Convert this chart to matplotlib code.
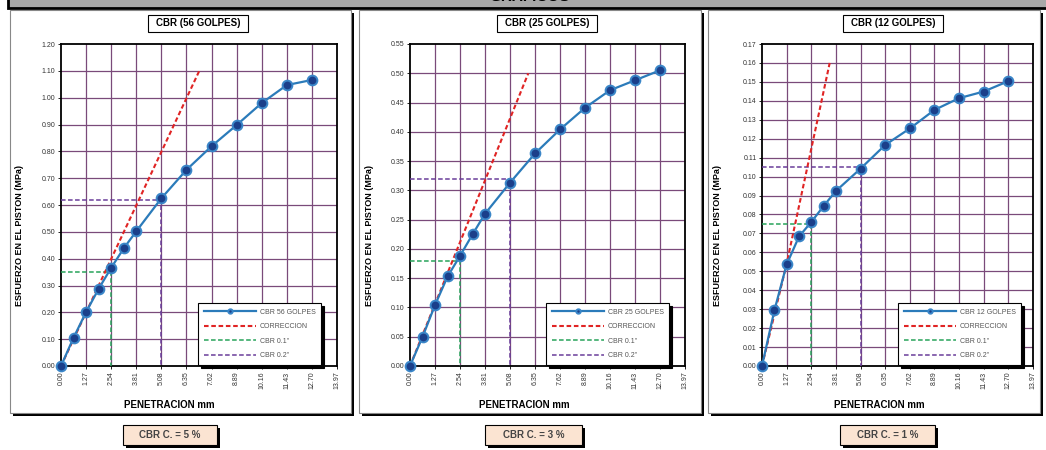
import numpy as np
import matplotlib
matplotlib.use("Agg")
import matplotlib.pyplot as plt
from matplotlib.patches import Rectangle

plt.rcParams['font.family'] = ['Liberation Sans', 'DejaVu Sans']

# Penetracion (mm) comun a los tres ensayos
penetracion = [0.00, 0.64, 1.27, 1.91, 2.54, 3.18, 3.81, 5.08, 6.35, 7.62, 8.89, 10.16, 11.43, 12.70]
x_ticks = [0.00, 1.27, 2.54, 3.81, 5.08, 6.35, 7.62, 8.89, 10.16, 11.43, 12.70, 13.97]

# Esfuerzos (MPa) por numero de golpes
esf_56 = [0.000, 0.106, 0.201, 0.288, 0.366, 0.439, 0.502, 0.625, 0.731, 0.819, 0.898, 0.980, 1.047, 1.066]
esf_25 = [0.000, 0.050, 0.104, 0.153, 0.188, 0.225, 0.260, 0.313, 0.363, 0.404, 0.441, 0.471, 0.488, 0.505]
esf_12 = [0.000, 0.0294, 0.0536, 0.0684, 0.0760, 0.0845, 0.0924, 0.1042, 0.1167, 0.1254, 0.1352, 0.1414, 0.1449, 0.1504]

# Lineas de correccion
corr_56_x = [0.00, 7.00]
corr_56_y = [0.00, 1.10]
corr_25_x = [0.00, 6.01]
corr_25_y = [0.00, 0.50]
corr_12_x = [0.00, 1.27, 3.49]
corr_12_y = [0.000, 0.054, 0.160]

# Esfuerzo leido a 0.1" y 0.2"
cbr01 = [0.35, 0.18, 0.075]
cbr02 = [0.62, 0.32, 0.105]

golpes = ['56', '25', '12']
cbr_result = ['5', '3', '1']

y_ticks_56 = np.round(np.arange(0, 1.21, 0.10), 2)
y_ticks_25 = np.round(np.arange(0, 0.551, 0.05), 2)
y_ticks_12 = np.round(np.arange(0, 0.171, 0.01), 2)

W, H = 1046, 450
fig = plt.figure(figsize=(W / 100, H / 100), dpi=100)


def fx(px):
    return px / W


def fy(py):
    return 1 - py / H


def box(x0, y0, x1, y1, face='white', edge='#777777', lw=0.8, sh=3, shadow_color='black'):
    # rectangulo con sombra negra abajo a la derecha (coordenadas en pixeles)
    fig.patches.append(Rectangle((fx(x0 + sh), fy(y1 + sh)), fx(x1 - x0), (y1 - y0) / H,
                                 transform=fig.transFigure, facecolor=shadow_color,
                                 edgecolor='none', zorder=0))
    fig.patches.append(Rectangle((fx(x0), fy(y1)), fx(x1 - x0), (y1 - y0) / H,
                                 transform=fig.transFigure, facecolor=face,
                                 edgecolor=edge, lw=lw, zorder=1))


# banda de encabezado
fig.patches.append(Rectangle((fx(8), fy(8)), fx(1060), 20 / H, transform=fig.transFigure,
                             facecolor='#a8a8a8', edgecolor='black', lw=2, zorder=0))
fig.text(fx(530), fy(4), 'GRAFICOS', ha='center', va='bottom', fontsize=11,
         fontweight='bold', color='black')

panels = [(10, 351), (359, 701), (708, 1040)]
title_cx = [198, 547, 893]
axes_px = [(61, 337), (410, 685), (762, 1033)]
xlabel_cx = [169, 524, 879]
result_box = [(123, 217), (485, 582), (840, 935)]
legend_px = [198, 546, 898]

series = [
    (esf_56, corr_56_x, corr_56_y, y_ticks_56),
    (esf_25, corr_25_x, corr_25_y, y_ticks_25),
    (esf_12, corr_12_x, corr_12_y, y_ticks_12),
]

grid_color = '#7a4a7a'

for i in range(3):
    esf, cx, cy, yt = series[i]
    p0, p1 = panels[i]
    box(p0, 10, p1, 413, edge='#888888', lw=0.8, sh=3)

    # titulo del grafico
    tx = title_cx[i]
    box(tx - 50, 15, tx + 50, 32, edge='black', lw=0.8, sh=3)
    fig.text(fx(tx), fy(23.5), 'CBR (%s GOLPES)' % golpes[i], ha='center', va='center',
             fontsize=7, fontweight='bold', zorder=5)

    a0, a1 = axes_px[i]
    ax = fig.add_axes([fx(a0), fy(366), fx(a1 - a0), (366 - 44) / H])
    ax.set_zorder(3)
    ax.set_xlim(0, 13.97)
    ax.set_ylim(0, yt[-1])
    ax.set_xticks(x_ticks)
    ax.set_xticklabels(['%.2f' % v for v in x_ticks], rotation=90)
    ax.set_yticks(yt)
    ax.set_yticklabels(['%.2f' % v for v in yt])
    ax.tick_params(labelsize=5, labelcolor='#333333', length=2, width=0.6, pad=2)
    for v in x_ticks[1:-1]:
        ax.axvline(v, color=grid_color, lw=0.9, zorder=1)
    for v in yt[1:-1]:
        ax.axhline(v, color=grid_color, lw=0.9, zorder=1)
    for s in ax.spines.values():
        s.set_linewidth(1.3)
        s.set_color('black')

    ax.plot(penetracion, esf, color='#2b7bba', lw=1.6, marker='o', ms=7,
            mfc='#1b3f8a', mec='#3a86c8', mew=1.4, zorder=6, clip_on=False,
            label='CBR %s GOLPES' % golpes[i])
    ax.plot(cx, cy, color='#e02424', lw=1.5, dashes=(2.2, 1.3), zorder=5,
            label='CORRECCION')
    ax.plot([0, 2.54, 2.54], [cbr01[i], cbr01[i], 0], color='#27a35a', lw=1.1,
            dashes=(3, 1.6), zorder=4, label='CBR 0.1"')
    ax.plot([0, 5.08, 5.08], [cbr02[i], cbr02[i], 0], color='#6a3d9a', lw=1.1,
            dashes=(3, 1.6), zorder=4, label='CBR 0.2"')

    leg = ax.legend(loc='upper left', bbox_to_anchor=(fx(legend_px[i]), fy(303)),
                    bbox_transform=fig.transFigure, fontsize=5, frameon=True,
                    fancybox=False, shadow={'color': 'black', 'alpha': 1},
                    handlelength=7.5, labelspacing=1.1, borderpad=0.8,
                    handletextpad=0.6, markerscale=0.45, borderaxespad=0)
    leg.get_frame().set_edgecolor('black')
    leg.get_frame().set_linewidth(0.8)
    leg.get_frame().set_alpha(1)
    for t in leg.get_texts():
        t.set_color('#555555')

    fig.text(fx(p0 + 10), fy(235), 'ESFUERZO EN EL PISTON (MPa)', rotation=90,
             ha='center', va='center', fontsize=6.5, fontweight='bold', zorder=5)
    fig.text(fx(xlabel_cx[i]), fy(405), 'PENETRACION mm', ha='center', va='center',
             fontsize=7, fontweight='bold', zorder=5)

    # resultado CBR corregido
    b0, b1 = result_box[i]
    box(b0, 425, b1, 445, face='#fbe4d2', edge='black', lw=0.8, sh=3)
    fig.text(fx((b0 + b1) / 2), fy(435), 'CBR C. = %s %%' % cbr_result[i], ha='center',
             va='center', fontsize=7, fontweight='bold', color='#444444', zorder=5)

fig.savefig('out.png', dpi=100)
